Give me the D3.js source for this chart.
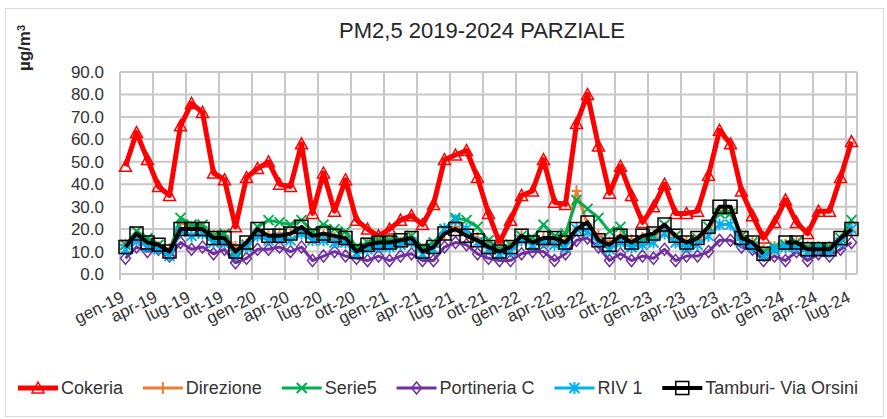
<!DOCTYPE html>
<html>
<head>
<meta charset="utf-8">
<script src="https://cdn.jsdelivr.net/npm/d3@7"></script>
<style>
body { margin: 0; background: #fff; }
svg text { font-family: "Liberation Sans", Arial, sans-serif; }
</style>
</head>
<body>
<script>
// months gen-19 .. lug-24
var months = [
    "gen-19", "feb-19", "mar-19", "apr-19", "mag-19", "giu-19", "lug-19", "ago-19", "set-19", "ott-19", "nov-19", "dic-19",
    "gen-20", "feb-20", "mar-20", "apr-20", "mag-20", "giu-20", "lug-20", "ago-20", "set-20", "ott-20", "nov-20", "dic-20",
    "gen-21", "feb-21", "mar-21", "apr-21", "mag-21", "giu-21", "lug-21", "ago-21", "set-21", "ott-21", "nov-21", "dic-21",
    "gen-22", "feb-22", "mar-22", "apr-22", "mag-22", "giu-22", "lug-22", "ago-22", "set-22", "ott-22", "nov-22", "dic-22",
    "gen-23", "feb-23", "mar-23", "apr-23", "mag-23", "giu-23", "lug-23", "ago-23", "set-23", "ott-23", "nov-23", "dic-23",
    "gen-24", "feb-24", "mar-24", "apr-24", "mag-24", "giu-24", "lug-24"
];

var tickLabels = [
    "gen-19", "apr-19", "lug-19", "ott-19", "gen-20", "apr-20", "lug-20", "ott-20",
    "gen-21", "apr-21", "lug-21", "ott-21", "gen-22", "apr-22", "lug-22", "ott-22",
    "gen-23", "apr-23", "lug-23", "ott-23", "gen-24", "apr-24", "lug-24"
];

var yTicks = [0, 10, 20, 30, 40, 50, 60, 70, 80, 90];

var seriesNames = ["Cokeria", "Direzione", "Serie5", "Portineria C", "RIV 1", "Tamburi- Via Orsini"];

var cokeria = [48, 63, 51, 39, 35, 66, 76, 72, 45, 42, 21, 43, 47, 50, 40, 39, 58, 27, 45, 28,
    42, 24, 20, 17, 20, 24, 26, 22, 31, 51, 53, 55, 43, 27, 14, 24, 35, 37, 51, 32,
    31, 67, 80, 57, 36, 48, 35, 23, 30, 40, 27, 27, 28, 44, 64, 58, 37, 26, 16, 23,
    33, 23, 18, 28, 28, 43, 59];

var direzione = [13, 17, 14, 12, 11, 23, 21, 21, 17, 17, 12, 13, 18, 17, 18, 18, 19, 17, 17, 16,
    16, 11, 13, 14, 14, 14, 16, 11, 12, 18, 21, 18, 16, 13, 11, 12, 17, 15, 16, 15,
    15, 37, 22, 17, 14, 17, 15, 16, 17, 20, 16, 14, 15, 19, 28, 28, 17, 14, 11, 12,
    13, 14, 12, 12, 12, 15, 19];

var serie5 = [13, 19, 16, 13, 10, 25, 22, 22, 17, 18, 7, 13, 21, 24, 23, 22, 24, 19, 22, 20,
    19, 12, 14, 15, 15, 15, 17, 12, 14, 20, 25, 24, 21, 15, 11, 13, 17, 16, 22, 17,
    18, 33, 29, 25, 19, 21, 12, 15, 17, 22, 17, 14, 16, 21, 27, 27, 17, 14, 10, 12,
    13, 14, 12, 12, 12, 16, 24];

var portineria = [7, 12, 10, 11, 8, 14, 11, 12, 9, 11, 5, 7, 11, 11, 12, 10, 12, 6, 8, 10,
    8, 7, 6, 8, 6, 8, 9, 6, 6, 12, 14, 13, 9, 7, 6, 6, 9, 10, 10, 6,
    9, 15, 16, 12, 6, 9, 6, 8, 7, 11, 6, 8, 8, 10, 15, 15, 12, 11, 6, 8,
    6, 10, 6, 9, 8, 11, 14];

var riv1 = [11, 15, 12, 11, 8, 19, 17, 18, 14, 14, 9, 12, 17, 15, 16, 15, 18, 15, 15, 14,
    14, 9, 11, 12, 12, 13, 14, 9, 11, 20, 24, 20, 14, 11, 9, 10, 15, 13, 14, 13,
    12, 20, 19, 14, 11, 14, 12, 13, 14, 18, 14, 12, 13, 17, 22, 22, 14, 12, 8, 11,
    12, 12, 10, 11, 10, 14, 20];

var tamburi = [12, 18, 14, 13, 10, 20, 20, 20, 16, 16, 10, 14, 20, 17, 17, 18, 21, 17, 18, 17,
    16, 10, 13, 14, 14, 15, 16, 10, 12, 18, 20, 17, 15, 12, 10, 12, 17, 14, 16, 16,
    14, 20, 23, 15, 13, 17, 14, 17, 18, 22, 17, 14, 16, 21, 30, 30, 16, 14, 9, null,
    14, 14, 11, 11, 11, 16, 20];

var width = 887,
    height = 419,
    plotLeft = 120,
    plotRight = 857,
    plotTop = 72,
    plotBottom = 274;

var gridColor = "#c8c8c8";
var textColor = "#333333";

var series = [
    {name: seriesNames[0], values: cokeria, color: "#ff0000", width: 5, marker: "triangle"},
    {name: seriesNames[1], values: direzione, color: "#ed7d31", width: 3, marker: "plus"},
    {name: seriesNames[2], values: serie5, color: "#00b050", width: 3, marker: "cross"},
    {name: seriesNames[3], values: portineria, color: "#7030a0", width: 3, marker: "diamond"},
    {name: seriesNames[4], values: riv1, color: "#00b0f0", width: 3, marker: "star"},
    {name: seriesNames[5], values: tamburi, color: "#000000", width: 4, marker: "square"}
];

var svg = d3.select('body')
    .append('svg')
    .attr('width', width)
    .attr('height', height);

// outer chart border
svg.append("rect")
    .attr("x", 5.5)
    .attr("y", 8.5)
    .attr("width", 878)
    .attr("height", 408)
    .attr("fill", "none")
    .attr("stroke", "#d9d9d9");

var x = d3.scaleBand()
    .domain(d3.range(months.length))
    .range([plotLeft, plotRight]);

var y = d3.scaleLinear()
    .domain([0, 90])
    .range([plotBottom, plotTop]);

var bw = x.bandwidth();

/**
 * grid: horizontal every 10, vertical every 3 months
 */
svg.append("g").selectAll("line")
    .data(yTicks)
    .enter()
    .append("line")
    .attr("x1", plotLeft)
    .attr("x2", plotRight)
    .attr("y1", function (d) { return y(d); })
    .attr("y2", function (d) { return y(d); })
    .attr("stroke", gridColor)
    .attr("stroke-width", 2);

var vIdx = d3.range(0, months.length, 3);
svg.append("g").selectAll("line")
    .data(vIdx)
    .enter()
    .append("line")
    .attr("x1", function (d) { return x(d); })
    .attr("x2", function (d) { return x(d); })
    .attr("y1", plotTop)
    .attr("y2", plotBottom + 6)
    .attr("stroke", gridColor)
    .attr("stroke-width", 2);

svg.append("line")
    .attr("x1", plotRight)
    .attr("x2", plotRight)
    .attr("y1", plotTop)
    .attr("y2", plotBottom)
    .attr("stroke", gridColor)
    .attr("stroke-width", 2);

// y axis labels
var yAxis = svg.append("g")
    .attr("transform", "translate(" + plotLeft + ",0)")
    .call(d3.axisLeft(y).tickValues(yTicks).tickFormat(d3.format(".1f")).tickSize(0).tickPadding(16));
yAxis.select(".domain").remove();
yAxis.selectAll("text")
    .style("font-size", "17px")
    .attr("fill", textColor);

// x axis labels (rotated)
var xAxis = svg.append("g")
    .attr("transform", "translate(0," + plotBottom + ")")
    .call(d3.axisBottom(x).tickValues(vIdx).tickFormat(function (d, j) { return tickLabels[j]; }).tickSize(0));
xAxis.select(".domain").remove();
xAxis.selectAll("text")
    .attr("x", 0)
    .attr("y", 0)
    .attr("dy", 0)
    .attr("text-anchor", "end")
    .attr("transform", "translate(0,27) rotate(-26)")
    .style("font-size", "17px")
    .attr("fill", textColor);

/**
 * marker path for the given kind
 */
function markerPath(kind) {
    switch (kind) {
        case "triangle": return "M0,-6L6,5L-6,5Z";
        case "square": return "M-6.5,-6.5L6.5,-6.5L6.5,6.5L-6.5,6.5Z";
        case "diamond": return "M0,-6L5,0L0,6L-5,0Z";
        case "cross": return "M-5,-5L5,5M-5,5L5,-5";
        case "plus": return "M-5,0L5,0M0,-6L0,6";
        case "star": return "M-5,-5L5,5M-5,5L5,-5M0,-6L0,6";
    }
}

function markerStroke(kind) {
    return (kind === "cross" || kind === "star" || kind === "plus") ? 2 : 1.5;
}

var line = d3.line()
    .defined(function (d) { return d != null; })
    .x(function (d, i) { return x(i) + bw / 2; })
    .y(function (d) { return y(d); });

for (var s = 0; s < series.length; ++s) {
    var sr = series[s];
    svg.append("path")
        .datum(sr.values)
        .attr("d", line)
        .attr("fill", "none")
        .attr("stroke", sr.color)
        .attr("stroke-width", sr.width)
        .attr("stroke-linejoin", "round");

    var pts = [];
    for (var i = 0; i < sr.values.length; ++i) {
        if (sr.values[i] != null) {
            pts.push({i: i, v: sr.values[i]});
        }
    }
    svg.append("g").selectAll("path")
        .data(pts)
        .enter()
        .append("path")
        .attr("d", markerPath(sr.marker))
        .attr("transform", function (d) {
            return "translate(" + (x(d.i) + bw / 2) + "," + y(d.v) + ")";
        })
        .attr("fill", "none")
        .attr("stroke", sr.color)
        .attr("stroke-width", markerStroke(sr.marker));
}

// title
svg.append("text")
    .attr("x", 482)
    .attr("y", 38)
    .attr("text-anchor", "middle")
    .style("font-size", "22px")
    .attr("fill", "#262626")
    .text("PM2,5 2019-2024 PARZIALE");

// y axis title
var yt = svg.append("text")
    .attr("transform", "translate(30,48) rotate(-90)")
    .attr("text-anchor", "middle")
    .style("font-size", "17px")
    .style("font-weight", "bold")
    .attr("fill", "#262626");
yt.append("tspan").text("\u00b5g/m");
yt.append("tspan").attr("dy", "-0.5em").style("font-size", "11px").text("3");

// legend: items spread between legendStart and legendEnd
var legendStart = 18,
    legendEnd = 858,
    legendY = 388,
    sampleLen = 40;

var items = [];
var usedWidth = 0;
for (var k = 0; k < series.length; ++k) {
    var g = svg.append("g");
    g.append("line")
        .attr("x1", 0)
        .attr("x2", sampleLen)
        .attr("y1", 0)
        .attr("y2", 0)
        .attr("stroke", series[k].color)
        .attr("stroke-width", series[k].width);
    g.append("path")
        .attr("d", markerPath(series[k].marker))
        .attr("transform", "translate(" + (sampleLen / 2) + ",0)")
        .attr("fill", "none")
        .attr("stroke", series[k].color)
        .attr("stroke-width", markerStroke(series[k].marker));
    var t = g.append("text")
        .attr("x", sampleLen + 3)
        .attr("y", 0)
        .attr("dy", ".35em")
        .style("font-size", "18px")
        .attr("fill", textColor)
        .text(series[k].name);
    var w = sampleLen + 3 + t.node().getComputedTextLength();
    items.push({g: g, w: w});
    usedWidth += w;
}
var gap = (legendEnd - legendStart - usedWidth) / (items.length - 1);
var lx = legendStart;
for (var m = 0; m < items.length; ++m) {
    items[m].g.attr("transform", "translate(" + lx + "," + legendY + ")");
    lx += items[m].w + gap;
}
</script>
</body>
</html>
